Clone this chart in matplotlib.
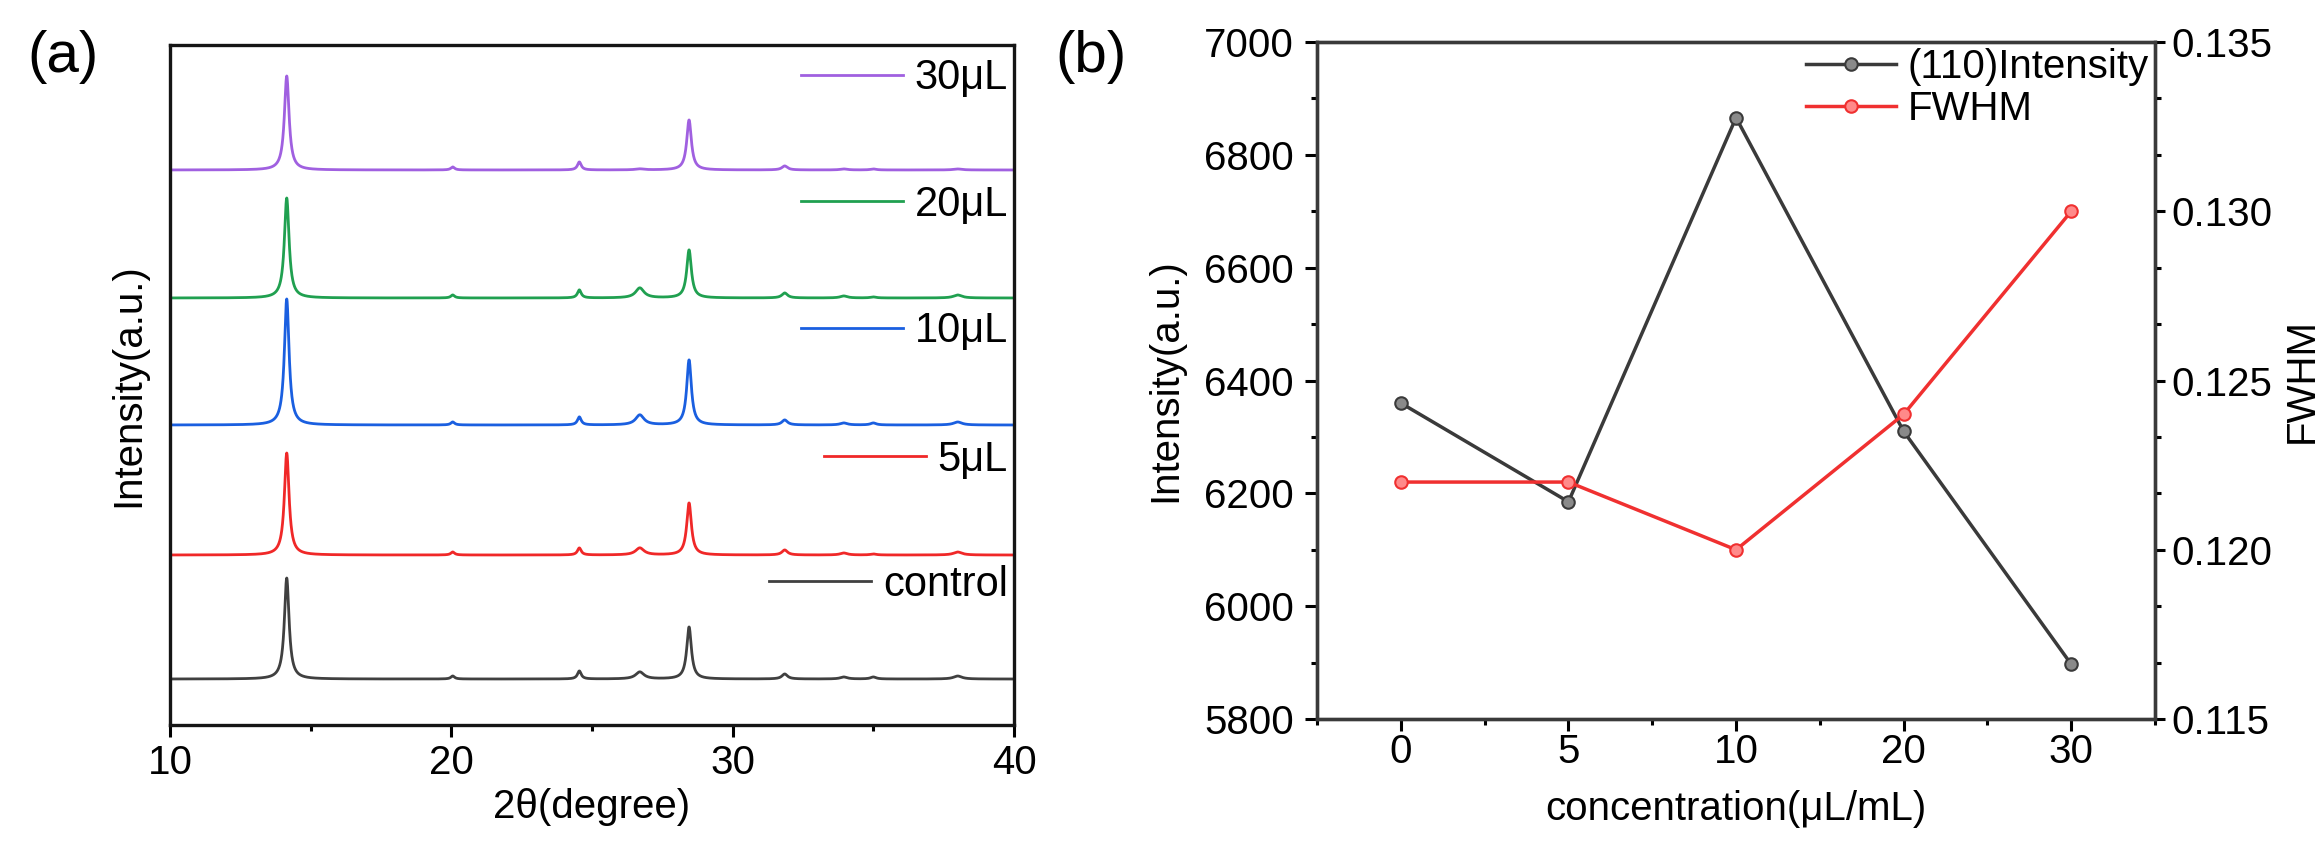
import numpy as np
import matplotlib
matplotlib.use("Agg")
import matplotlib.pyplot as plt
from matplotlib.ticker import MultipleLocator, FixedLocator, FormatStrFormatter

plt.rcParams['font.family'] = ['Liberation Sans', 'DejaVu Sans']
plt.rcParams['mathtext.fontset'] = 'custom'

# ---- panel (a): XRD patterns, peak table ----
samples = ["control", "5μL", "10μL", "20μL", "30μL"]
colors = ["#404040", "#f02828", "#1a5fe0", "#20a050", "#a060e0"]
offsets = [46, 170, 300, 427, 555]            # baseline of each pattern (a.u.)
peak_pos = [14.15, 20.05, 24.55, 26.7, 28.45, 31.85, 33.95, 35.0, 38.0]
peak_hwhm = [0.10, 0.08, 0.08, 0.18, 0.10, 0.12, 0.15, 0.12, 0.18]
peak_h = {
    "control": [101, 3, 8, 7, 52, 5, 2, 2, 3],
    "5μL":     [102, 3, 7, 7, 52, 5, 2, 1, 3],
    "10μL":    [126, 3, 8, 10, 65, 5, 2, 2, 3],
    "20μL":    [100, 3, 8, 10, 48, 5, 2, 1, 3],
    "30μL":    [94, 3, 8, 1, 50, 4, 1, 1, 1],
}
legend_y = [0.206, 0.39, 0.579, 0.765, 0.951]

# ---- panel (b) ----
conc = ["0", "5", "10", "20", "30"]
intensity = [6360, 6185, 6866, 6310, 5897]
fwhm = [0.122, 0.122, 0.120, 0.124, 0.130]

fig = plt.figure(figsize=(23.22, 8.47), dpi=100)
ax1 = fig.add_axes([0.0732, 0.1440, 0.3635, 0.8029])
ax2 = fig.add_axes([0.5672, 0.1511, 0.3609, 0.7993])

tt = np.linspace(10, 40, 6001)
lines = []
for name, c, off in zip(samples, colors, offsets):
    y = np.full_like(tt, off, dtype=float)
    for p, g, h in zip(peak_pos, peak_hwhm, peak_h[name]):
        y += h * g**2 / ((tt - p)**2 + g**2)
    ln, = ax1.plot(tt, y, color=c, lw=2.0)
    lines.append(ln)

ax1.set_xlim(10, 40)
ax1.set_ylim(0, 680)
ax1.set_yticks([])
ax1.xaxis.set_major_locator(MultipleLocator(10))
ax1.xaxis.set_minor_locator(MultipleLocator(5))
ax1.tick_params(axis='x', which='major', direction='out', length=8.6, width=2.2,
                labelsize=29, pad=5)
ax1.tick_params(axis='x', which='minor', direction='out', length=4.5, width=2.2)
for s in ax1.spines.values():
    s.set_linewidth(2.4)
    s.set_color('#151515')
ax1.set_xlabel("2θ(degree)", fontsize=29)
ax1.xaxis.set_label_coords(0.5, -0.093)
ax1.set_ylabel("Intensity(a.u.)", fontsize=29)
ax1.yaxis.set_label_coords(-0.027, 0.5)

legs = []
for ln, name, yy in zip(lines, samples, legend_y):
    leg = ax1.legend([ln], [name], loc='center right', bbox_to_anchor=(1, yy),
                     frameon=False, fontsize=30, handlelength=2.45,
                     handletextpad=0.28, borderpad=0, borderaxespad=0.15)
    legs.append(leg)
for leg in legs[:-1]:
    ax1.add_artist(leg)

fig.text(0.012, 0.965, "(a)", fontsize=42, va='top', ha='left')
fig.text(0.4545, 0.965, "(b)", fontsize=42, va='top', ha='left')

# ---- panel (b) drawing ----
xpos = np.arange(len(conc))
l1, = ax2.plot(xpos, intensity, color='#3a3a3a', lw=2.5, marker='o', ms=9,
               mfc='#8a8a8a', mec='#3a3a3a', mew=1.5, label="(110)Intensity")
ax2.set_xlim(-0.5, 4.5)
ax2.set_ylim(5800, 7000)
ax2.set_xticks(xpos)
ax2.set_xticklabels(conc)
ax2.xaxis.set_minor_locator(MultipleLocator(0.5))
ax2.yaxis.set_major_locator(MultipleLocator(200))
ax2.yaxis.set_minor_locator(MultipleLocator(100))
ax2.tick_params(axis='x', which='major', direction='out', length=8.6, width=2.2,
                labelsize=29, pad=1.5)
ax2.tick_params(axis='x', which='minor', direction='out', length=4.5, width=2.2)
ax2.tick_params(axis='y', which='major', direction='out', length=8.6, width=2.2,
                labelsize=29, pad=8)
ax2.tick_params(axis='y', which='minor', direction='out', length=4.5, width=2.2)
ax2.set_xlabel("concentration(μL/mL)", fontsize=29)
ax2.xaxis.set_label_coords(0.5, -0.105)
ax2.set_ylabel("Intensity(a.u.)", fontsize=29)
ax2.yaxis.set_label_coords(-0.159, 0.5)

ax3 = ax2.twinx()
l2, = ax3.plot(xpos, fwhm, color='#f03030', lw=2.5, marker='o', ms=9,
               mfc='#ff8a8a', mec='#f03030', mew=1.5, label="FWHM")
ax3.set_ylim(0.115, 0.135)
ax3.yaxis.set_major_locator(MultipleLocator(0.005))
ax3.yaxis.set_major_formatter(FormatStrFormatter('%.3f'))
ax3.yaxis.set_minor_locator(FixedLocator(np.linspace(0.115, 0.135, 13)))
ax3.tick_params(axis='y', which='major', direction='out', length=7, width=2.2,
                labelsize=29, pad=5)
ax3.tick_params(axis='y', which='minor', direction='out', length=4.5, width=2.2)
ax3.set_ylabel("FWHM", fontsize=29)
ax3.yaxis.set_label_coords(1.152, 0.5)

for a in (ax2, ax3):
    for s in a.spines.values():
        s.set_linewidth(2.4)
        s.set_color('#3a3a3a')

ax3.legend([l1, l2], ["(110)Intensity", "FWHM"], loc='upper right', frameon=False,
           fontsize=29, handlelength=2.23, handletextpad=0.3, labelspacing=0.1,
           borderpad=0, borderaxespad=0.15, numpoints=1)

fig.savefig("out.png", dpi=100)
